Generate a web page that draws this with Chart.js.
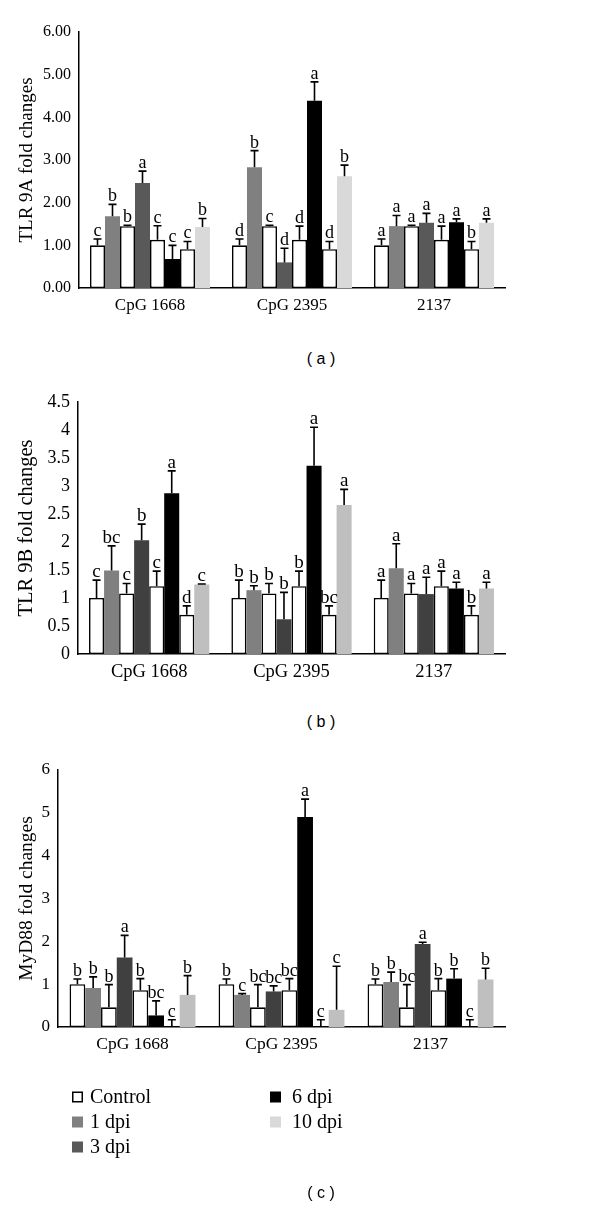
<!DOCTYPE html>
<html>
<head>
<meta charset="utf-8">
<script src="https://cdn.jsdelivr.net/npm/chart.js@4"></script>
<style>
body{margin:0;background:#fff;width:600px;height:1210px;position:relative;overflow:hidden;color:#000;}
canvas{position:absolute;left:0;}
.cap{position:absolute;left:281px;width:80px;text-align:center;font-family:"Liberation Sans",Arial,sans-serif;font-size:16px;line-height:20px;}
</style>
</head>
<body>
<canvas id="chartA" width="600" height="330" style="top:0px"></canvas>
<div class="cap" style="top:349px">( a )</div>
<canvas id="chartB" width="600" height="336" style="top:360px"></canvas>
<div class="cap" style="top:712px">( b )</div>
<canvas id="chartC" width="600" height="470" style="top:740px"></canvas>
<div class="cap" style="top:1183px">( c )</div>

<script>
// categories and bar order inside each group
const groups = ['CpG 1668', 'CpG 2395', '2137'];
const barNames = ['Control', '1 dpi', 'Control', '3 dpi', 'Control', '6 dpi', 'Control', '10 dpi'];

// legend entries (drawn under panel c)
const legendLabels = ['Control', '1 dpi', '3 dpi', '6 dpi', '10 dpi'];
const legendColors = ['#ffffff', '#808080', '#595959', '#000000', '#d9d9d9'];

// (a) TLR 9A  - rows are groups, columns follow barNames
const tlr9aMean = [
	[1.00, 1.68, 1.45, 2.46, 1.13, 0.68, 0.91, 1.43],
	[1.00, 2.83, 1.45, 0.60, 1.13, 4.39, 0.91, 2.62],
	[1.00, 1.45, 1.45, 1.53, 1.13, 1.54, 0.91, 1.53]
];
const tlr9aErr = [
	[0.15, 0.28, 0.02, 0.28, 0.33, 0.32, 0.18, 0.20],
	[0.15, 0.39, 0.02, 0.33, 0.32, 0.44, 0.18, 0.26],
	[0.15, 0.25, 0.02, 0.22, 0.32, 0.08, 0.18, 0.09]
];
const tlr9aLetters = [
	['c', 'b', 'b', 'a', 'c', 'c', 'c', 'b'],
	['d', 'b', 'c', 'd', 'd', 'a', 'd', 'b'],
	['a', 'a', 'a', 'a', 'a', 'a', 'b', 'a']
];

// (b) TLR 9B
const tlr9bMean = [
	[1.00, 1.49, 1.08, 2.03, 1.21, 2.87, 0.70, 1.24],
	[1.00, 1.14, 1.08, 0.62, 1.21, 3.36, 0.70, 2.66],
	[1.00, 1.53, 1.08, 1.07, 1.21, 1.17, 0.70, 1.17]
];
const tlr9bErr = [
	[0.32, 0.44, 0.18, 0.29, 0.27, 0.40, 0.16, 0.01],
	[0.32, 0.08, 0.18, 0.48, 0.27, 0.69, 0.16, 0.28],
	[0.32, 0.44, 0.18, 0.30, 0.27, 0.11, 0.16, 0.11]
];
const tlr9bLetters = [
	['c', 'bc', 'c', 'b', 'c', 'a', 'd', 'c'],
	['b', 'b', 'b', 'b', 'b', 'a', 'bc', 'a'],
	['a', 'a', 'a', 'a', 'a', 'a', 'b', 'a']
];

// (c) MyD88
const myd88Mean = [
	[1.00, 0.91, 0.46, 1.62, 0.86, 0.27, 0, 0.75],
	[1.00, 0.75, 0.46, 0.83, 0.86, 4.90, 0, 0.40],
	[1.00, 1.05, 0.46, 1.94, 0.86, 1.13, 0, 1.11]
];
const myd88Err = [
	[0.12, 0.26, 0.53, 0.52, 0.27, 0.34, 0.17, 0.45],
	[0.12, 0.03, 0.53, 0.13, 0.27, 0.42, 0.17, 1.02],
	[0.12, 0.23, 0.53, 0.04, 0.27, 0.23, 0.17, 0.26]
];
const myd88Letters = [
	['b', 'b', 'b', 'a', 'b', 'bc', 'c', 'b'],
	['b', 'c', 'bc', 'bc', 'bc', 'a', 'c', 'c'],
	['b', 'b', 'bc', 'a', 'b', 'b', 'c', 'b']
];

const colorsA = ['#ffffff', '#808080', '#ffffff', '#595959', '#ffffff', '#000000', '#ffffff', '#d9d9d9'];
const colorsBC = ['#ffffff', '#808080', '#ffffff', '#404040', '#ffffff', '#000000', '#ffffff', '#bfbfbf'];

const serif = '"Liberation Serif", "Times New Roman", serif';

// whiskers (upper only) and significance letters
const errorPlugin = {
	id: 'errs',
	afterDatasetsDraw(chart) {
		const ctx = chart.ctx;
		const y = chart.scales.y;
		const size = chart.options.letterSize || 18;
		ctx.save();
		chart.data.datasets.forEach((ds, j) => {
			chart.getDatasetMeta(j).data.forEach((bar, i) => {
				const top = ds.data[i] + ds.err[i];
				const y0 = y.getPixelForValue(ds.data[i]);
				const y1 = y.getPixelForValue(top);
				ctx.strokeStyle = '#000';
				ctx.lineWidth = 1.6;
				ctx.beginPath();
				ctx.moveTo(bar.x, y0);
				ctx.lineTo(bar.x, y1);
				ctx.moveTo(bar.x - 4, y1);
				ctx.lineTo(bar.x + 4, y1);
				ctx.stroke();
				ctx.fillStyle = '#000';
				ctx.font = size + 'px ' + serif;
				ctx.textAlign = 'center';
				ctx.textBaseline = 'alphabetic';
				ctx.fillText(ds.letters[i], bar.x, y1 - 3);
			});
		});
		ctx.restore();
	}
};

// two-column legend below the last panel
const legendPlugin = {
	id: 'colLegend',
	afterDraw(chart) {
		if (!chart.options.showColLegend) return;
		const ctx = chart.ctx;
		const top = chart.chartArea.bottom + 70;
		ctx.save();
		ctx.font = '20px ' + serif;
		ctx.textBaseline = 'middle';
		ctx.textAlign = 'left';
		legendLabels.forEach((lab, k) => {
			const col = k < 3 ? 0 : 1;
			const row = k < 3 ? k : k - 3;
			const sx = col === 0 ? 72 : 270;
			const ty = top + row * 25;
			ctx.fillStyle = legendColors[k];
			ctx.fillRect(sx, ty - 5.5, 11, 11);
			if (legendColors[k] === '#ffffff') {
				ctx.strokeStyle = '#000';
				ctx.lineWidth = 1.5;
				ctx.strokeRect(sx + 0.75, ty - 4.75, 9.5, 9.5);
			}
			ctx.fillStyle = '#000';
			ctx.fillText(lab, sx + (col === 0 ? 18 : 22), ty + 1);
		});
		ctx.restore();
	}
};

function panelChart(id, yTitle, means, errs, letters, colors, yMax, yStep, decimals, box, fs) {
	const datasets = [];
	for (let j = 0; j < barNames.length; j++) {
		const white = colors[j] === '#ffffff';
		datasets.push({
			label: barNames[j],
			data: groups.map((g, i) => means[i][j]),
			err: groups.map((g, i) => errs[i][j]),
			letters: groups.map((g, i) => letters[i][j]),
			backgroundColor: colors[j],
			borderColor: '#000',
			borderWidth: white ? 1.6 : 0,
			borderSkipped: false,
			categoryPercentage: 0.845,
			barPercentage: 1.0
		});
	}
	const config = {
		type: 'bar',
		data: { labels: groups, datasets: datasets },
		options: {
			responsive: false,
			animation: false,
			letterSize: fs.letter,
			showColLegend: !!box.legend,
			layout: { padding: { left: 0, right: 95, top: box.top, bottom: box.bottom || 0 } },
			plugins: { legend: { display: false }, tooltip: { enabled: false } },
			scales: {
				x: {
					grid: { display: false, drawTicks: false },
					border: { color: '#000', width: 1.5 },
					ticks: { color: '#000', font: { family: serif, size: fs.x }, padding: 7 },
					afterFit(s) { s.height = 42; }
				},
				y: {
					min: 0,
					max: yMax,
					grid: { display: false, drawTicks: false },
					border: { color: '#000', width: 1.5 },
					ticks: {
						stepSize: yStep,
						color: '#000',
						font: { family: serif, size: fs.tick },
						padding: 8,
						callback: v => decimals === null ? String(Math.round(v * 10) / 10) : v.toFixed(decimals)
					},
					title: {
						display: true,
						text: yTitle,
						color: '#000',
						font: { family: serif, size: fs.title },
						padding: { top: 27 - fs.title * 0.6, bottom: 0 }
					},
					afterFit(s) { s.width = box.left; }
				}
			}
		},
		plugins: [errorPlugin, legendPlugin]
	};
	let ctx = document.getElementById(id).getContext('2d');
	new Chart(ctx, config);
}

panelChart('chartA', 'TLR 9A fold changes', tlr9aMean, tlr9aErr, tlr9aLetters, colorsA, 6, 1, 2,
	{ left: 79, top: 32 }, { tick: 16, x: 17, title: 19, letter: 18 });
panelChart('chartB', 'TLR 9B fold changes', tlr9bMean, tlr9bErr, tlr9bLetters, colorsBC, 4.5, 0.5, null,
	{ left: 78, top: 42 }, { tick: 18, x: 18.5, title: 20.5, letter: 19 });
panelChart('chartC', 'MyD88 fold changes', myd88Mean, myd88Err, myd88Letters, colorsBC, 6, 1, null,
	{ left: 58, top: 30, bottom: 141, legend: true }, { tick: 17, x: 17.5, title: 19.5, letter: 18 });
</script>
</body>
</html>
